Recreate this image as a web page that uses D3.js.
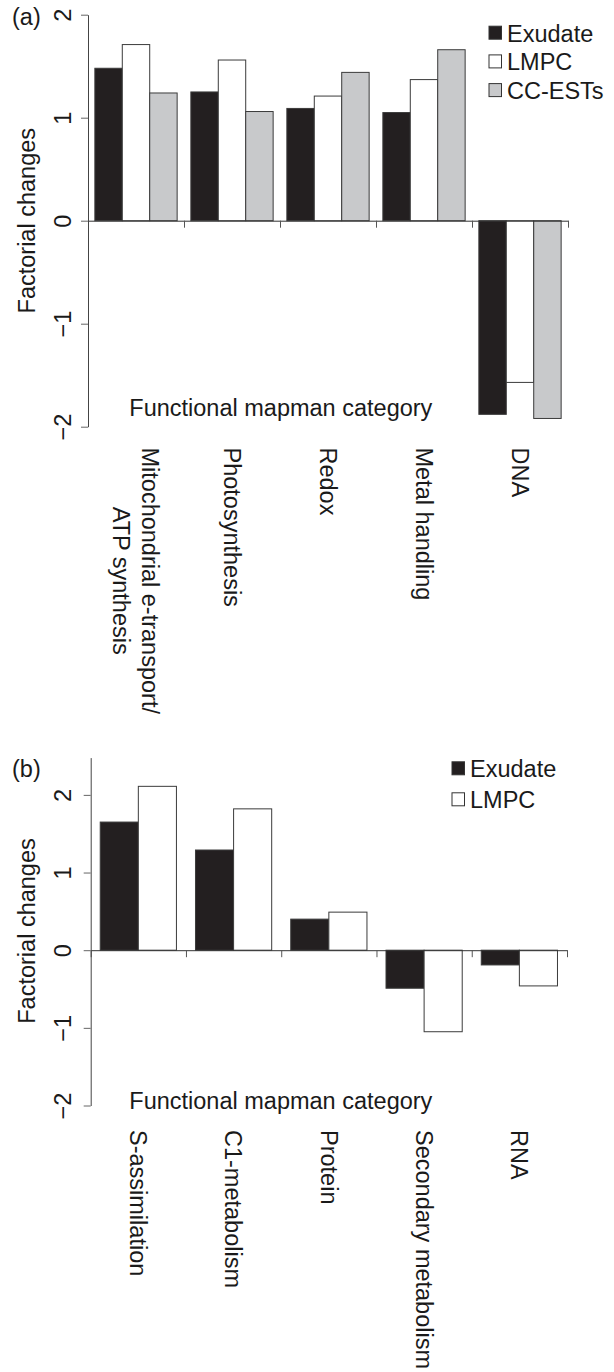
<!DOCTYPE html>
<html>
<head>
<meta charset="utf-8">
<script src="https://cdn.jsdelivr.net/npm/d3@7"></script>
<style>
  body { margin: 0; background: #fff; }
  svg text { font-family: "Liberation Sans", Arial, Helvetica, sans-serif; fill: #1a1a1a; }
</style>
</head>
<body>
<div id="chart"></div>
<script>
// panel (a)
const categoriesA = [["Mitochondrial e-transport/", "ATP synthesis"], ["Photosynthesis"], ["Redox"], ["Metal handling"], ["DNA"]];
const seriesA = ["Exudate", "LMPC", "CC-ESTs"];
const exudateA = [1.48, 1.25, 1.09, 1.05, -1.88];
const lmpcA = [1.71, 1.56, 1.21, 1.37, -1.57];
const ccestsA = [1.24, 1.06, 1.44, 1.66, -1.92];

// panel (b)
const categoriesB = [["S-assimilation"], ["C1-metabolism"], ["Protein"], ["Secondary metabolism"], ["RNA"]];
const seriesB = ["Exudate", "LMPC"];
const exudateB = [1.65, 1.29, 0.40, -0.49, -0.19];
const lmpcB = [2.11, 1.82, 0.49, -1.05, -0.46];

const yTicks = [-2, -1, 0, 1, 2];
const yTitle = "Factorial changes";
const xTitle = "Functional mapman category";

const colors = { "Exudate": "#231f20", "LMPC": "#ffffff", "CC-ESTs": "#c8c9cb" };
const fontSize = 23.5;

const svg = d3.select("#chart")
  .append("svg")
    .attr("width", 614)
    .attr("height", 1372);

function drawPanel(p) {
  const n = p.categories.length;
  const k = p.series.length;

  const x = d3.scaleBand()
    .domain(d3.range(n))
    .range([p.x0, p.x1])
    .paddingInner(0.5 / (k + 0.5))
    .paddingOuter(0.25 / (k + 0.5));

  const xs = d3.scaleBand()
    .domain(p.series)
    .range([0, x.bandwidth()]);

  const edges = d3.scaleLinear().domain([0, n]).range([p.x0, p.x1]);

  const y = d3.scaleLinear()
    .domain([p.yMin, p.yMax])
    .range([p.yBottom, p.yTop]);

  const g = svg.append("g");

  // bars
  p.series.forEach((s, j) => {
    g.append("g").selectAll("rect")
      .data(p.values[j])
      .enter().append("rect")
        .attr("x", (d, i) => x(i) + xs(s))
        .attr("width", xs.bandwidth())
        .attr("y", d => y(Math.max(0, d)))
        .attr("height", d => Math.abs(y(d) - y(0)))
        .attr("fill", colors[s])
        .attr("stroke", "#3b3b3b")
        .attr("stroke-width", 1);
  });

  // x axis at zero, ticks between groups
  const xAxis = g.append("g")
    .attr("transform", `translate(0,${y(0)})`)
    .call(d3.axisBottom(edges)
      .tickValues(d3.range(n + 1))
      .tickFormat("")
      .tickSize(7)
      .tickSizeOuter(0));
  xAxis.select(".domain").attr("stroke", "#333");
  xAxis.selectAll(".tick line").attr("stroke", "#555");

  // y axis
  const yAxis = g.append("g")
    .attr("transform", `translate(${p.x0},0)`)
    .attr("font-size", null)
    .attr("font-family", null)
    .call(d3.axisLeft(y)
      .tickValues(yTicks)
      .tickSize(7)
      .tickSizeOuter(0)
      .tickFormat(d => d < 0 ? "\u2212" + Math.abs(d) : String(d)));
  yAxis.select(".domain").attr("stroke", "#444");
  yAxis.selectAll(".tick line").attr("stroke", "#666");
  yAxis.selectAll(".tick text")
    .attr("x", 0)
    .attr("dy", "0.35em")
    .attr("text-anchor", "middle")
    .attr("font-size", fontSize)
    .attr("transform", `translate(${p.tickLabelX - p.x0},0) rotate(-90)`);

  // y title
  g.append("text")
    .attr("transform", `translate(${p.yTitleX},${p.yTitleY}) rotate(-90)`)
    .attr("dy", "0.35em")
    .attr("text-anchor", "middle")
    .attr("font-size", fontSize)
    .text(yTitle);

  // x title inside plot
  g.append("text")
    .attr("x", p.xTitleX)
    .attr("y", p.xTitleY)
    .attr("font-size", fontSize)
    .text(xTitle);

  // rotated category labels
  p.categories.forEach((lines, i) => {
    const cx = x(i) + x.bandwidth() / 2;
    let firstLen = 0;
    lines.forEach((line, j) => {
      const off = ((lines.length - 1) / 2 - j) * p.lineGap;
      const t = g.append("text")
        .attr("transform", `translate(${cx + off},${p.labelY}) rotate(90)`)
        .attr("dy", "0.35em")
        .attr("font-size", fontSize)
        .text(line);
      const len = t.node().getComputedTextLength();
      if (j === 0) firstLen = len;
      else t.attr("x", (firstLen - len) / 2);
    });
  });

  // panel tag
  g.append("text")
    .attr("x", p.tagX)
    .attr("y", p.tagY)
    .attr("font-size", fontSize)
    .text(p.tag);

  // legend
  const leg = g.append("g");
  p.series.forEach((s, j) => {
    const by = p.legY + j * p.legGap;
    leg.append("rect")
      .attr("x", p.legX)
      .attr("y", by - 15.5)
      .attr("width", 12.5)
      .attr("height", 13)
      .attr("fill", colors[s])
      .attr("stroke", "#333")
      .attr("stroke-width", 1);
    leg.append("text")
      .attr("x", p.legX + 18)
      .attr("y", by)
      .attr("font-size", fontSize)
      .text(s);
  });
}

drawPanel({
  categories: categoriesA,
  series: seriesA,
  values: [exudateA, lmpcA, ccestsA],
  x0: 88, x1: 568,
  yMin: -2, yMax: 2, yBottom: 426.7, yTop: 14.7,
  tickLabelX: 62.8,
  yTitleX: 26.7, yTitleY: 220.7,
  xTitleX: 129.3, xTitleY: 416,
  labelY: 447.5, lineGap: 29,
  tag: "(a)", tagX: 12, tagY: 25,
  legX: 489, legY: 41.7, legGap: 28.7
});

drawPanel({
  categories: categoriesB,
  series: seriesB,
  values: [exudateB, lmpcB],
  x0: 90.7, x1: 567,
  yMin: -2, yMax: 2.48, yBottom: 1105.5, yTop: 757.6,
  tickLabelX: 62.8,
  yTitleX: 26.7, yTitleY: 931,
  xTitleX: 129.3, xTitleY: 1109,
  labelY: 1130, lineGap: 29,
  tag: "(b)", tagX: 12, tagY: 777,
  legX: 452, legY: 777.3, legGap: 31
});
</script>
</body>
</html>
